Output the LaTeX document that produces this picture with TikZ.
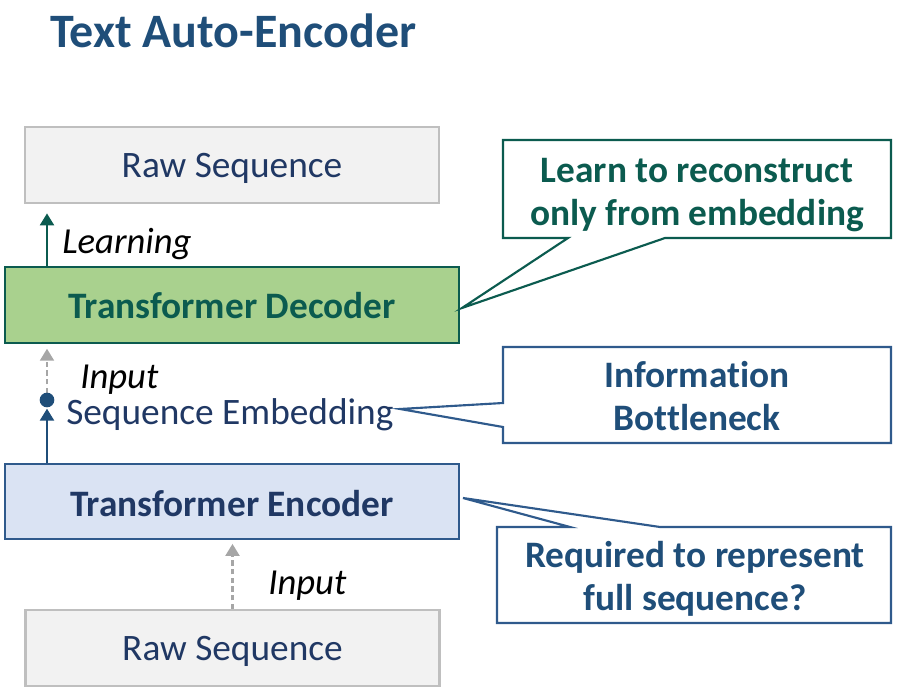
\documentclass[tikz,border=0pt]{standalone}
\usepackage{fontspec}
\setmainfont{Carlito}[Ligatures=NoCommon]
\usetikzlibrary{arrows.meta}
\definecolor{navy}{HTML}{1F4E79}
\definecolor{rawtxt}{HTML}{203864}
\definecolor{teal}{HTML}{0B5B4F}
\definecolor{greenfill}{HTML}{A9D18E}
\definecolor{bluefill}{HTML}{DAE3F3}
\definecolor{bluedraw}{HTML}{2F5A8C}
\definecolor{grayfill}{HTML}{F2F2F2}
\definecolor{graydraw}{HTML}{BFBFBF}
\definecolor{dashgray}{HTML}{A6A6A6}
\tikzset{
  rawbox/.style={draw=graydraw,fill=grayfill,line width=1.6pt,minimum width=310.5pt,minimum height=57pt},
  rawtext/.style={text=rawtxt,font=\fontsize{28}{32}\selectfont},
  modelbox/.style={line width=1.6pt,minimum width=340.5pt,minimum height=57pt},
  modeltext/.style={font=\fontsize{28}{32}\selectfont\bfseries},
  lbl/.style={font=\fontsize{27.5}{31}\selectfont\itshape,text=black,inner sep=0pt},
  callouttxt/.style={font=\fontsize{28}{32}\selectfont\bfseries,align=center,inner sep=0pt},
  callout/.style={line width=1.6pt,line join=miter},
  solidarrow/.style={line width=1.8pt,-{Triangle[width=10.5pt,length=9pt]}},
  dasharrow/.style={line width=1.6pt,dashgray,dash pattern=on 4pt off 2.5pt,-{Triangle[width=10.5pt,length=9pt]}}
}
\begin{document}
\begin{tikzpicture}[x=0.75pt,y=-0.75pt]
\useasboundingbox (0,0) rectangle (897,692);
% title
\node[text=navy,font=\fontsize{36}{40}\selectfont\bfseries,anchor=west,inner sep=0pt] (title) at (50,31) {Text Auto-Encoder};
% boxes
\node[rawbox,label={[rawtext,yshift=-2.5pt]center:Raw Sequence}] (rawtop) at (232,165) {};
\node[modelbox,draw=teal,fill=greenfill,label={[modeltext,text=teal,yshift=-0.75pt]center:Transformer Decoder}] (dec) at (232,305) {};
\node[modelbox,draw=bluedraw,fill=bluefill,minimum height=56pt,label={[modeltext,text=rawtxt,yshift=-1.5pt]center:Transformer Encoder}] (enc) at (232,501.5) {};
\node[rawbox,label={[rawtext,yshift=-2.5pt]center:Raw Sequence}] (rawbot) at (232.5,648) {};
% embedding text
\coordinate (dotc) at (47,400);
\node[anchor=west,inner sep=0pt,text=rawtxt,font=\fontsize{28}{32}\selectfont] (emb) at (66,414.5) {Sequence Embedding};
% labels
\node[lbl,anchor=west] (learn) at (62,244) {Learning};
\node[lbl,anchor=west] (in1) at (80,380) {Input};
\node[lbl,anchor=west] (in2) at (268,586) {Input};
% arrows
\draw[solidarrow,teal,shorten >=7pt] (dotc|-dec.north) -- (dotc|-rawtop.south);
\draw[dasharrow,shorten >=3.5pt] (dotc) ++(0,-7) -- (dotc|-dec.south);
\draw[solidarrow,navy] (dotc|-enc.north) -- ([yshift=-6.5pt]dotc);
\node[circle,fill=navy,inner sep=0pt,minimum size=11pt] (dot) at (dotc) {};
\draw[dasharrow,shorten >=3pt] (rawbot.north) -- (rawbot.north|-enc.south);
% callout 1
\draw[callout,teal,fill=white] (503,140) -- (891,140) -- (891,238) -- (665,238) -- (462,308) -- (568,238) -- (503,238) -- cycle;
\node[callouttxt,text=teal] (c1) at (697,195) {Learn to reconstruct\\only from embedding};
% callout 2
\draw[callout,bluedraw,fill=white] (503,347) -- (891,347) -- (891,443) -- (503,443) -- (503,427) -- (400,409) -- (503,403) -- cycle;
\node[callouttxt,text=navy] (c2) at (697,396) {Information\\Bottleneck};
% callout 3
\draw[callout,bluedraw,fill=white] (497,527) -- (570,527) -- (463,498) -- (660,527) -- (891,527) -- (891,623) -- (497,623) -- cycle;
\node[callouttxt,text=navy] (c3) at (695,579) {Required to represent\\full sequence?};
\end{tikzpicture}
\end{document}
